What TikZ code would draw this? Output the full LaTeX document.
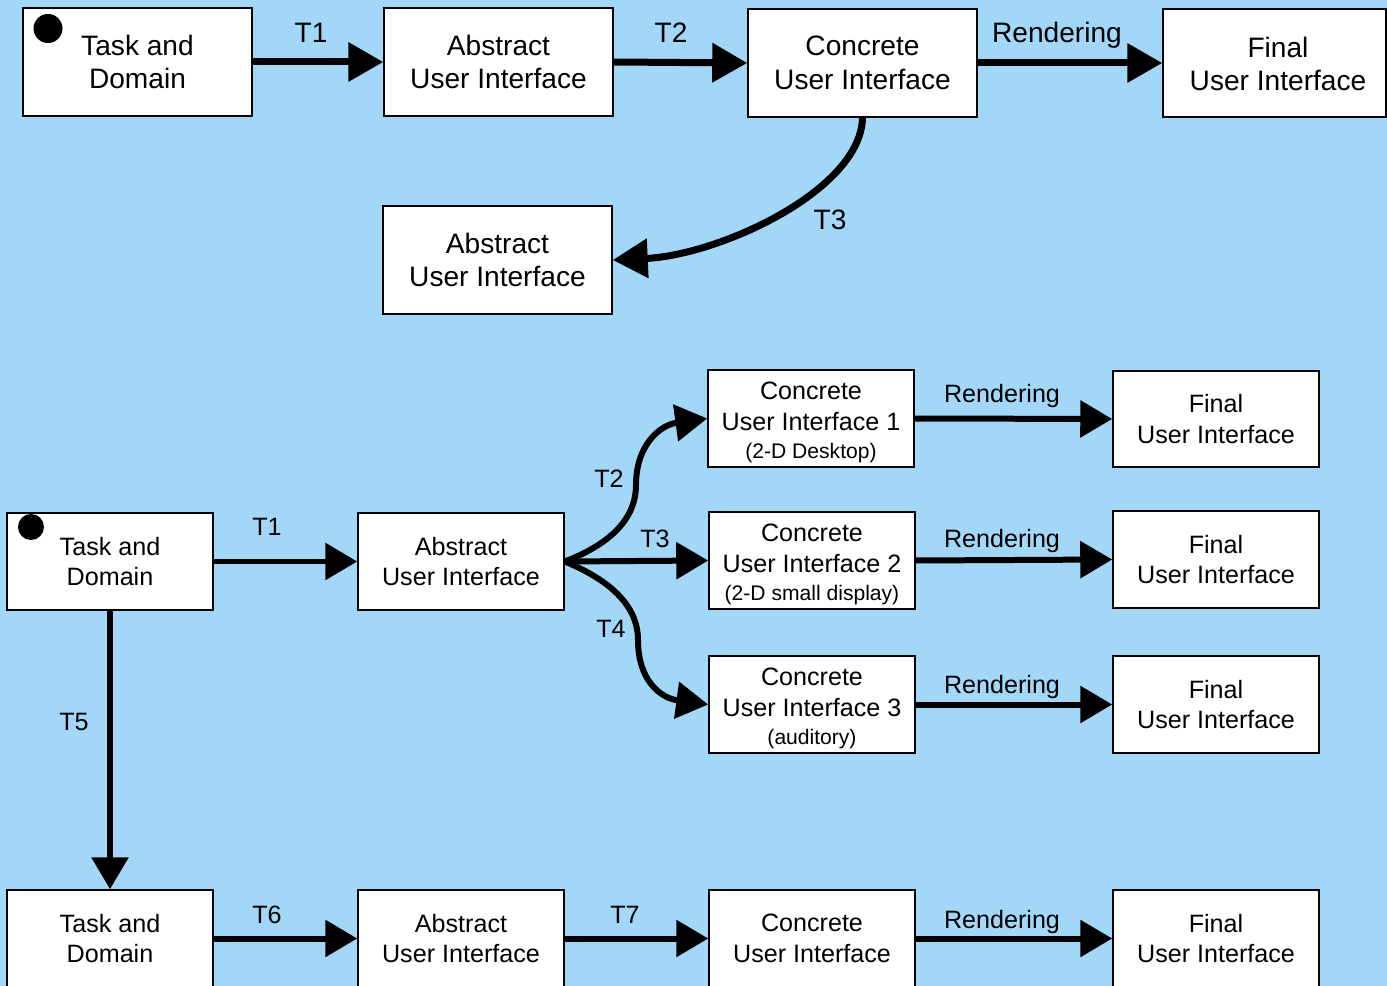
\documentclass[tikz,border=0pt]{standalone}
\usepackage{fontspec}
\setmainfont{Liberation Sans}
\usetikzlibrary{arrows.meta}
\newcommand\unitpx{0.02cm}
\definecolor{skyback}{RGB}{163,215,247}
\tikzset{
  box/.style={draw, fill=white, line width=0.85pt, inner sep=0pt, align=center},
  bigbox/.style={box, minimum width=229*\unitpx, minimum height=108*\unitpx,
    font=\fontsize{16}{19.3}\selectfont},
  midbox/.style={box, minimum width=206*\unitpx, minimum height=97*\unitpx,
    font=\fontsize{14.3}{17.6}\selectfont},
  boxtext/.style={inner sep=0pt, align=center, font=\fontsize{14.3}{17.6}\selectfont},
  biglbl/.style={anchor=base, inner sep=0pt, font=\fontsize{16}{19.3}\selectfont},
  midlbl/.style={anchor=base, inner sep=0pt, font=\fontsize{14.3}{17.6}\selectfont},
  bigarrow/.style={line width=0.14cm, -{Triangle[length=0.7cm, width=0.76cm]}},
  midarrow/.style={line width=0.12cm, -{Triangle[length=0.64cm, width=0.72cm]}},
  startdot/.style={circle, fill=black, inner sep=0pt},
}
\newcommand\smallline[1]{{\fontsize{12}{14}\selectfont #1}}
\begin{document}
\begin{tikzpicture}[x=0.02cm, y=-0.02cm]
  \useasboundingbox (0,0) rectangle (1387,986);
  \clip (0,0) rectangle (1387,986);
  \fill[skyback] (0,0) rectangle (1387,986);

  % first chain
  \node[bigbox] (td1) at (137.5,62) {Task and\\Domain};
  \node[startdot, minimum size=29*\unitpx] (dot1) at (48,28.5) {};
  \node[bigbox] (aui1) at (498.5,62) {Abstract\\User Interface};
  \node[bigbox] (cui1) at (862.5,63) {Concrete\\User Interface};
  \node[bigbox, minimum width=223*\unitpx] (fui1) at (1274.5,63) {};
  \node[boxtext, font=\fontsize{16}{19.3}\selectfont] (fui1text) at (1278,64) {Final\\User Interface};
  \node[bigbox] (aui2) at (497.5,260) {Abstract\\User Interface};

  \draw[bigarrow] (td1.east) -- (aui1.west);
  \draw[bigarrow] (aui1.east) -- (cui1.west);
  \draw[bigarrow] (cui1.east) -- (fui1.west);
  \draw[bigarrow] (cui1.south) .. controls (861,190) and (720,255) .. (aui2.east);

  \node[biglbl] (t1a) at (311,43) {T1};
  \node[biglbl] (t2a) at (671,43) {T2};
  \node[biglbl] (ra) at (1057,43) {Rendering};
  \node[biglbl] (t3a) at (830,230) {T3};

  % second chain with three concrete interfaces
  \node[midbox] (td2) at (110,561.5) {Task and\\Domain};
  \node[startdot, minimum size=26*\unitpx] (dot2) at (31,527) {};
  \node[midbox] (aui3) at (461,561.5) {Abstract\\User Interface};
  \node[midbox] (cuia) at (811,418.5) {};
  \node[midbox] (cuib) at (812,560.5) {};
  \node[midbox] (cuic) at (812,704.5) {};
  \node[boxtext] (cuiatext) at (811,422.5) {Concrete\\User Interface 1\\[-1.7pt]\smallline{(2-D Desktop)}};
  \node[boxtext] (cuibtext) at (812,564.5) {Concrete\\User Interface 2\\[-1.7pt]\smallline{(2-D small display)}};
  \node[boxtext] (cuictext) at (812,708.5) {Concrete\\User Interface 3\\[-1.7pt]\smallline{(auditory)}};
  \node[midbox, minimum height=96*\unitpx] (fuia) at (1216,419) {Final\\User Interface};
  \node[midbox] (fuib) at (1216,559.5) {Final\\User Interface};
  \node[midbox] (fuic) at (1216,704.5) {Final\\User Interface};

  \draw[midarrow] (td2.east) -- (aui3.west);
  \draw[midarrow] (aui3.east) .. controls (600,548) and (636,525) .. (636,485)
                              .. controls (636,445) and (660,425) .. (cuia.west);
  \draw[midarrow] (aui3.east) -- (cuib.west);
  \draw[midarrow] (aui3.east) .. controls (600,576) and (638,600) .. (638,640)
                              .. controls (638,680) and (660,698) .. (cuic.west);
  \draw[midarrow] (cuia.east) -- (fuia.west);
  \draw[midarrow] (cuib.east) -- (fuib.west);
  \draw[midarrow] (cuic.east) -- (fuic.west);

  \node[midlbl] (t1b) at (267,536) {T1};
  \node[midlbl] (t2b) at (609,488) {T2};
  \node[midlbl] (t3b) at (655,548) {T3};
  \node[midlbl] (t4b) at (611,638) {T4};
  \node[midlbl] (rb1) at (1002,403) {Rendering};
  \node[midlbl] (rb2) at (1002,548) {Rendering};
  \node[midlbl] (rb3) at (1002,693) {Rendering};

  % third chain
  \node[midbox] (td3) at (110,938.5) {Task and\\Domain};
  \node[midbox] (aui4) at (461,938.5) {Abstract\\User Interface};
  \node[midbox] (cui4) at (812,938.5) {Concrete\\User Interface};
  \node[midbox] (fui4) at (1216,938.5) {Final\\User Interface};

  \draw[midarrow] (td2.south) -- (td3.north);
  \draw[midarrow] (td3.east) -- (aui4.west);
  \draw[midarrow] (aui4.east) -- (cui4.west);
  \draw[midarrow] (cui4.east) -- (fui4.west);

  \node[midlbl] (t5) at (74,730) {T5};
  \node[midlbl] (t6) at (267,923) {T6};
  \node[midlbl] (t7) at (625,923) {T7};
  \node[midlbl] (rc) at (1002,928) {Rendering};
\end{tikzpicture}
\end{document}
